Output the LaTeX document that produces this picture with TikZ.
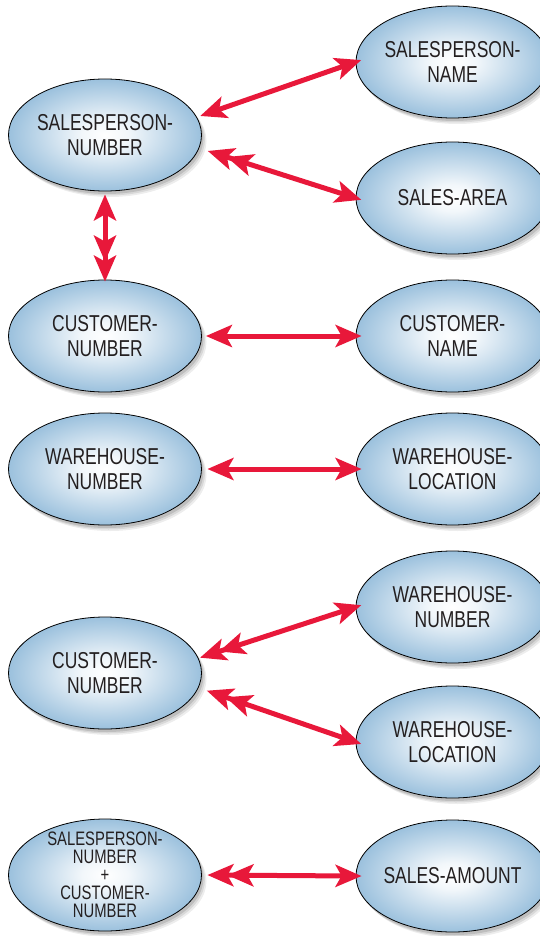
\documentclass[tikz,border=0pt]{standalone}
\usepackage{fontspec}
\setmainfont{Liberation Sans}[FakeStretch=0.76]
\usepackage{tikz}
\usetikzlibrary{arrows.meta,shapes.geometric,shadows}
\definecolor{attrblue}{RGB}{146,187,218}
\definecolor{fdred}{RGB}{232,24,58}
\definecolor{attrtext}{RGB}{35,31,32}
\pgfdeclareradialshading{attrshade}{\pgfpoint{0bp}{0bp}}{color(0bp)=(white); color(6bp)=(white!88!attrblue); color(27bp)=(attrblue); color(50bp)=(attrblue)}

\begin{document}
\begin{tikzpicture}[x=1pt,y=-1pt,
 fdtip/.tip={Stealth[length=26pt,width=22pt,inset=6pt,sep=-6pt]},
 attr/.style={ellipse,draw=black,line width=0.8pt,shade,shading=attrshade,
   minimum width=193pt,minimum height=112pt,inner ysep=0pt,inner xsep=-4pt,align=center,text=attrtext,
   font=\fontsize{23}{25}\selectfont,
   drop shadow={shadow xshift=5pt,shadow yshift=-6pt,opacity=.07,fill=black},
   drop shadow={shadow xshift=3.5pt,shadow yshift=-4.5pt,opacity=.09,fill=black},
   drop shadow={shadow xshift=2pt,shadow yshift=-3pt,opacity=.12,fill=black}},
 one/.style={{fdtip[]}-{fdtip[]},line width=5pt,color=fdred},
 many/.style={{fdtip[]fdtip[]}-{fdtip[]},line width=5pt,color=fdred}]
\useasboundingbox (0,0) rectangle (540,936);
\node[attr] (spnum) at (105,135) {SALESPERSON-\\NUMBER};
\node[attr] (spname) at (452.5,62) {SALESPERSON-\\NAME};
\node[attr] (sarea) at (452.5,198) {SALES-AREA};
\node[attr] (cnum) at (105,336) {CUSTOMER-\\NUMBER};
\node[attr] (cname) at (452.5,336) {CUSTOMER-\\NAME};
\node[attr] (whnum) at (105,469) {WAREHOUSE-\\NUMBER};
\node[attr] (whloc) at (452.5,469) {WAREHOUSE-\\LOCATION};
\node[attr] (whnumb) at (452.5,607) {WAREHOUSE-\\NUMBER};
\node[attr] (cnumb) at (105,673) {CUSTOMER-\\NUMBER};
\node[attr] (whlocb) at (452.5,742) {WAREHOUSE-\\LOCATION};
\node[attr,font=\fontsize{19.5}{18}\selectfont,inner ysep=-12pt] (spcnum) at (105,875) {SALESPERSON-\\NUMBER\\+\\CUSTOMER-\\NUMBER};
\node[attr] (samount) at (452.5,876) {SALES-AMOUNT};
\draw[one,shorten <=9.5pt] (spnum.11.85) -- (spname.west);
\draw[many,shorten <=15pt] (spnum.-8.15) -- (sarea.west);
\draw[many,shorten <=4pt,shorten >=9pt] (cnum.north) -- (spnum.south);
\draw[one,shorten <=10pt] (cnum.east) -- (cname.west);
\draw[one,shorten <=11.5pt] (whnum.east) -- (whloc.west);
\draw[many,shorten <=7.6pt] (cnumb.9.5) -- (whnumb.west);
\draw[many,shorten <=14.8pt] (cnumb.-9.4) -- (whlocb.west);
\draw[many,shorten <=11.5pt] (spcnum.east) -- (samount.west);
\end{tikzpicture}
\end{document}
